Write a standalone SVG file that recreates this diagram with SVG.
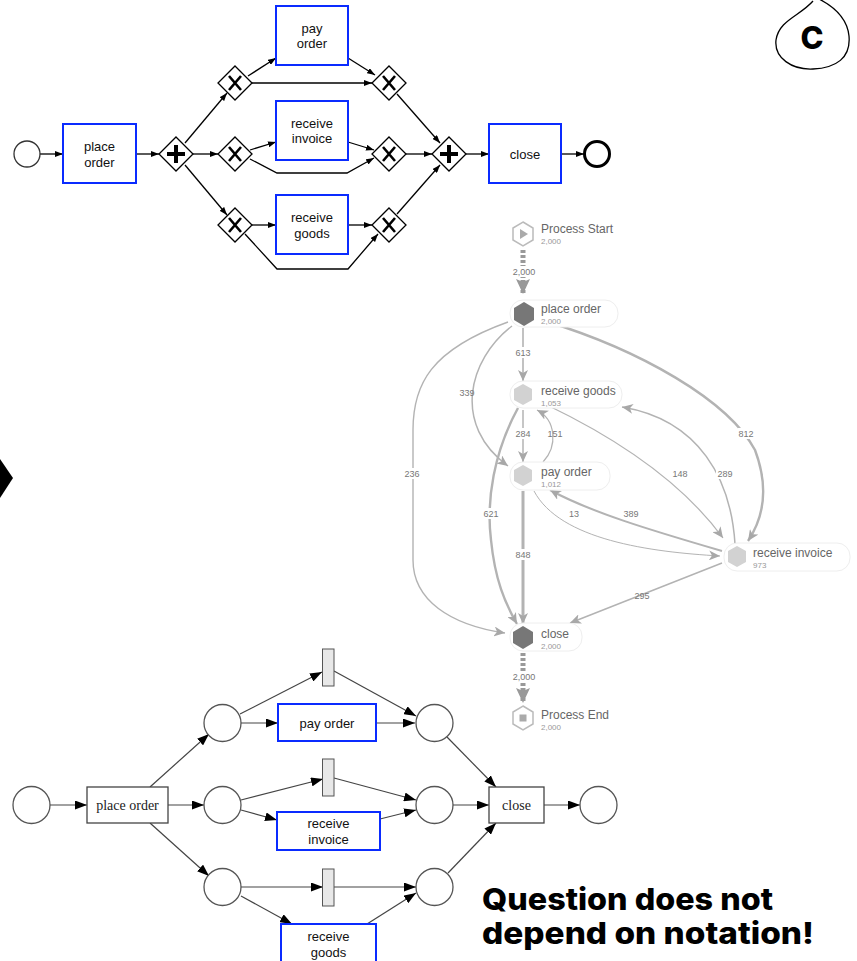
<svg xmlns="http://www.w3.org/2000/svg" width="857" height="961" viewBox="0 0 857 961">
<style>
.bl{fill:none;stroke:#000;stroke-width:1.3}
.task{fill:#fff;stroke:#0a2bff;stroke-width:2}
.gw{fill:#fff;stroke:#000;stroke-width:1.3}
.gm{stroke:#000;stroke-linecap:butt;fill:none}
.t{font-family:"Liberation Sans",Arial,sans-serif;font-size:13px;fill:#111;text-anchor:middle}
.ts{font-family:"Liberation Serif","Times New Roman",serif;font-size:14px;fill:#222;text-anchor:middle}
.pl{fill:#fff;stroke:#555;stroke-width:1.3}
.pe{fill:none;stroke:#444;stroke-width:1.2}
.de{fill:none;stroke:#b3b3b3}
.dl{font-family:"Liberation Sans",Arial,sans-serif;font-size:9px;fill:#777;text-anchor:middle}
.dn{font-family:"Liberation Sans",Arial,sans-serif;font-size:12px;fill:#666}
.dc{font-family:"Liberation Sans",Arial,sans-serif;font-size:8px;fill:#999}
.pill{fill:#fff;stroke:#eeeeee;stroke-width:1}
.big{font-family:Inter,"Open Sans",sans-serif;font-weight:800;font-size:30px;fill:#000}
</style>
<defs>
<marker id="ab" markerUnits="userSpaceOnUse" markerWidth="8" markerHeight="6" refX="8" refY="3" orient="auto"><path d="M0,0 L8,3 L0,6 z" fill="#000"/></marker>
<marker id="ap" markerUnits="userSpaceOnUse" markerWidth="12" markerHeight="9" refX="12" refY="4.5" orient="auto"><path d="M0,0 L12,4.5 L0,9 z" fill="#000"/></marker>
<marker id="ad" markerUnits="userSpaceOnUse" markerWidth="12" markerHeight="10" refX="11" refY="5" orient="auto"><path d="M0,0 L11,5 L0,10 L3,5 z" fill="#a8a8a8"/></marker>
<marker id="adb" markerUnits="userSpaceOnUse" markerWidth="16" markerHeight="14" refX="15" refY="7" orient="auto"><path d="M0,0 L15,7 L0,14 L3,7 z" fill="#999"/></marker>
</defs>

<!-- BPMN connectors -->
<g id="bpmn-edges">
<path class="bl" d="M40,154 L63,154" marker-end="url(#ab)"/>
<path class="bl" d="M136,154 L159,154" marker-end="url(#ab)"/>
<path class="bl" d="M185,143 L227,93" marker-end="url(#ab)"/>
<path class="bl" d="M193,154 L218,154" marker-end="url(#ab)"/>
<path class="bl" d="M185,165 L227,215" marker-end="url(#ab)"/>
<path class="bl" d="M248,76 L276,58" marker-end="url(#ab)"/>
<path class="bl" d="M252,83 L372,83" marker-end="url(#ab)"/>
<path class="bl" d="M250,150 L276,142" marker-end="url(#ab)"/>
<path class="bl" d="M250,159 L277,173 L347,173 L374,158" marker-end="url(#ab)"/>
<path class="bl" d="M252,225 L276,225" marker-end="url(#ab)"/>
<path class="bl" d="M245,234 L277,269 L348,269 L378,234" marker-end="url(#ab)"/>
<path class="bl" d="M348,58 L375,75" marker-end="url(#ab)"/>
<path class="bl" d="M348,142 L374,150" marker-end="url(#ab)"/>
<path class="bl" d="M348,225 L372,225" marker-end="url(#ab)"/>
<path class="bl" d="M397,94 L440,143" marker-end="url(#ab)"/>
<path class="bl" d="M406,154 L432,154" marker-end="url(#ab)"/>
<path class="bl" d="M397,214 L440,165" marker-end="url(#ab)"/>
<path class="bl" d="M466,154 L489,154" marker-end="url(#ab)"/>
<path class="bl" d="M561,154 L584,154" marker-end="url(#ab)"/>
</g>

<!-- BPMN nodes -->
<g id="b-start"><circle cx="27" cy="154" r="13" fill="#fff" stroke="#333" stroke-width="1.3"/></g>
<g id="b-place-order"><rect class="task" x="63" y="124" width="73" height="59"/><text class="t" x="99.5" y="151">place</text><text class="t" x="99.5" y="167">order</text></g>
<g id="b-and1"><polygon class="gw" points="176,137 193,154 176,171 159,154"/><path class="gm" stroke-width="4" d="M167,154 H185 M176,145 V163"/></g>
<g id="b-xor1"><polygon class="gw" points="235,66 252,83 235,100 218,83"/><path class="gm" stroke-width="2.6" d="M229,76 L241,90 M241,76 L229,90"/></g>
<g id="b-xor2"><polygon class="gw" points="235,137 252,154 235,171 218,154"/><path class="gm" stroke-width="2.6" d="M229,147 L241,161 M241,147 L229,161"/></g>
<g id="b-xor3"><polygon class="gw" points="235,208 252,225 235,242 218,225"/><path class="gm" stroke-width="2.6" d="M229,218 L241,232 M241,218 L229,232"/></g>
<g id="b-pay-order"><rect class="task" x="276" y="6" width="72" height="59"/><text class="t" x="312" y="33">pay</text><text class="t" x="312" y="48">order</text></g>
<g id="b-receive-invoice"><rect class="task" x="276" y="101" width="72" height="59"/><text class="t" x="312" y="128">receive</text><text class="t" x="312" y="143">invoice</text></g>
<g id="b-receive-goods"><rect class="task" x="276" y="195" width="72" height="59"/><text class="t" x="312" y="222">receive</text><text class="t" x="312" y="238">goods</text></g>
<g id="b-xor4"><polygon class="gw" points="389,66 406,83 389,100 372,83"/><path class="gm" stroke-width="2.6" d="M383,76 L395,90 M395,76 L383,90"/></g>
<g id="b-xor5"><polygon class="gw" points="389,137 406,154 389,171 372,154"/><path class="gm" stroke-width="2.6" d="M383,147 L395,161 M395,147 L383,161"/></g>
<g id="b-xor6"><polygon class="gw" points="389,208 406,225 389,242 372,225"/><path class="gm" stroke-width="2.6" d="M383,218 L395,232 M395,218 L383,232"/></g>
<g id="b-and2"><polygon class="gw" points="449,137 466,154 449,171 432,154"/><path class="gm" stroke-width="4" d="M440,154 H458 M449,145 V163"/></g>
<g id="b-close"><rect class="task" x="489" y="124" width="72" height="59"/><text class="t" x="525" y="159">close</text></g>
<g id="b-end"><circle cx="597" cy="154" r="12.5" fill="#fff" stroke="#000" stroke-width="3"/></g>

<!-- C badge -->
<g id="badge-c">
<path d="M813,1 C800,16 779,20 776,40 C774,58 792,70 813,69 C836,68 851,58 849,36 C847,16 830,4 815,-3" fill="#fff" stroke="#000" stroke-width="1.3"/>
<text x="812" y="49" font-family="Inter,'Open Sans',sans-serif" font-weight="800" font-size="31" text-anchor="middle">C</text>
</g>

<!-- left arrow fragment -->
<g id="left-arrow"><polygon points="0,459 13,478 0,498" fill="#000"/></g>

<!-- Disco process map connectors -->
<g id="disco-edges">
<path d="M523,250 L523,294" stroke="#999" stroke-width="5" stroke-dasharray="3,2" fill="none" marker-end="url(#adb)"/>
<path d="M523,653 L523,703" stroke="#999" stroke-width="5" stroke-dasharray="3,2" fill="none" marker-end="url(#adb)"/>
<path class="de" stroke-width="1.6" d="M523,328 L523,381" marker-end="url(#ad)"/>
<path class="de" stroke-width="1.5" d="M512,326 C468,360 452,425 508,466" marker-end="url(#ad)"/>
<path class="de" stroke-width="1.4" d="M508,322 C430,350 413,385 413,430 L413,560 C413,600 450,625 505,633" marker-end="url(#ad)"/>
<path class="de" stroke-width="2.4" d="M518,408 C494,452 486,500 491,540 C495,580 505,603 517,624" marker-end="url(#ad)"/>
<path class="de" stroke-width="1.5" d="M523,410 L523,462" marker-end="url(#ad)"/>
<path class="de" stroke-width="1.2" d="M543,462 C558,446 556,420 537,410" marker-end="url(#ad)"/>
<path class="de" stroke-width="3" d="M523,491 L523,624" marker-end="url(#ad)"/>
<path class="de" stroke-width="2.4" d="M545,321 C640,350 728,400 755,450 C770,490 762,520 748,541" marker-end="url(#ad)"/>
<path class="de" stroke-width="1.5" d="M735,544 C731,480 700,420 622,407" marker-end="url(#ad)"/>
<path class="de" stroke-width="1.2" d="M547,405 C620,440 682,482 723,538" marker-end="url(#ad)"/>
<path class="de" stroke-width="2" d="M722,551 C650,530 590,512 550,490" marker-end="url(#ad)"/>
<path class="de" stroke-width="1" d="M534,491 C560,540 650,552 720,556" marker-end="url(#ad)"/>
<path class="de" stroke-width="1.5" d="M722,563 L570,623" marker-end="url(#ad)"/>
<g>
<rect x="512" y="266" width="22" height="11" fill="#fff"/><text class="dl" x="524" y="275">2,000</text>
<rect x="512" y="671" width="22" height="11" fill="#fff"/><text class="dl" x="524" y="680">2,000</text>
<rect x="514" y="347" width="18" height="11" fill="#fff"/><text class="dl" x="523" y="356">613</text>
<text class="dl" x="467" y="396">339</text>
<rect x="402" y="468" width="20" height="11" fill="#fff"/><text class="dl" x="412" y="477">236</text>
<rect x="482" y="508" width="18" height="11" fill="#fff"/><text class="dl" x="491" y="517">621</text>
<rect x="514" y="428" width="18" height="11" fill="#fff"/><text class="dl" x="523" y="437">284</text>
<text class="dl" x="555" y="437">151</text>
<rect x="514" y="549" width="18" height="11" fill="#fff"/><text class="dl" x="523" y="558">848</text>
<rect x="738" y="428" width="18" height="11" fill="#fff"/><text class="dl" x="746" y="437">812</text>
<rect x="716" y="468" width="18" height="11" fill="#fff"/><text class="dl" x="725" y="477">289</text>
<text class="dl" x="680" y="477">148</text>
<text class="dl" x="631" y="517">389</text>
<text class="dl" x="574" y="517">13</text>
<text class="dl" x="642" y="599">295</text>
</g>
</g>

<!-- Disco nodes -->
<g id="d-start"><polygon points="523,222 533,228 533,240 523,246 513,240 513,228" fill="#fff" stroke="#bbb" stroke-width="1.5"/><polygon points="520,229 528,234 520,239" fill="#aaa"/><text class="dn" x="541" y="233">Process Start</text><text class="dc" x="541" y="244">2,000</text></g>
<g id="d-place-order"><rect class="pill" x="510" y="300" width="108" height="27" rx="13"/><polygon points="524,302 534,308 534,320 524,326 514,320 514,308" fill="#777"/><text class="dn" x="541" y="313">place order</text><text class="dc" x="541" y="324">2,000</text></g>
<g id="d-receive-goods"><rect class="pill" x="510" y="381" width="112" height="27" rx="13"/><polygon points="523,384 532,389 532,400 523,405 514,400 514,389" fill="#d2d2d2"/><text class="dn" x="541" y="395">receive goods</text><text class="dc" x="541" y="406">1,053</text></g>
<g id="d-pay-order"><rect class="pill" x="510" y="462" width="100" height="28" rx="13"/><polygon points="523,465 532,470 532,481 523,486 514,481 514,470" fill="#d2d2d2"/><text class="dn" x="541" y="476">pay order</text><text class="dc" x="541" y="487">1,012</text></g>
<g id="d-receive-invoice"><rect class="pill" x="724" y="543" width="126" height="28" rx="13"/><polygon points="737,546 746,551 746,562 737,567 728,562 728,551" fill="#d2d2d2"/><text class="dn" x="753" y="557">receive invoice</text><text class="dc" x="753" y="568">973</text></g>
<g id="d-close"><rect class="pill" x="510" y="623" width="72" height="28" rx="13"/><polygon points="523,626 533,632 533,643 523,649 513,643 513,632" fill="#777"/><text class="dn" x="541" y="638">close</text><text class="dc" x="541" y="649">2,000</text></g>
<g id="d-end"><polygon points="523,706 533,712 533,724 523,730 513,724 513,712" fill="#fff" stroke="#bbb" stroke-width="1.5"/><rect x="519.5" y="714.5" width="7" height="7" fill="#aaa"/><text class="dn" x="541" y="719">Process End</text><text class="dc" x="541" y="730">2,000</text></g>

<!-- Petri net connectors -->
<g id="petri-edges">
<path class="pe" d="M50,805 L87,805" marker-end="url(#ap)"/>
<path class="pe" d="M150,787 L209,734" marker-end="url(#ap)"/>
<path class="pe" d="M168,805 L204,805" marker-end="url(#ap)"/>
<path class="pe" d="M150,823 L209,876" marker-end="url(#ap)"/>
<path class="pe" d="M240,714 L322,672" marker-end="url(#ap)"/>
<path class="pe" d="M241,723 L278,723" marker-end="url(#ap)"/>
<path class="pe" d="M334,671 L416,716" marker-end="url(#ap)"/>
<path class="pe" d="M376,723 L415,723" marker-end="url(#ap)"/>
<path class="pe" d="M447,737 L496,787" marker-end="url(#ap)"/>
<path class="pe" d="M241,800 L323,779" marker-end="url(#ap)"/>
<path class="pe" d="M241,810 L277,820" marker-end="url(#ap)"/>
<path class="pe" d="M334,778 L416,800" marker-end="url(#ap)"/>
<path class="pe" d="M380,819 L416,810" marker-end="url(#ap)"/>
<path class="pe" d="M453,805 L489,805" marker-end="url(#ap)"/>
<path class="pe" d="M241,887 L323,887" marker-end="url(#ap)"/>
<path class="pe" d="M241,896 L292,924" marker-end="url(#ap)"/>
<path class="pe" d="M334,887 L416,887" marker-end="url(#ap)"/>
<path class="pe" d="M367,924 L416,893" marker-end="url(#ap)"/>
<path class="pe" d="M448,873 L496,823" marker-end="url(#ap)"/>
<path class="pe" d="M544,805 L580,805" marker-end="url(#ap)"/>
</g>

<!-- Petri net nodes -->
<g id="p-start"><circle class="pl" cx="31.5" cy="805" r="18.5"/></g>
<g id="p-place-order"><rect x="87" y="787" width="81" height="36" fill="#fff" stroke="#444" stroke-width="1.3"/><text class="ts" x="127.5" y="810">place order</text></g>
<g id="p-p1"><circle class="pl" cx="222.5" cy="723" r="18.5"/></g>
<g id="p-p2"><circle class="pl" cx="222.5" cy="805" r="18.5"/></g>
<g id="p-p3"><circle class="pl" cx="222.5" cy="887" r="18.5"/></g>
<g id="p-tau1"><rect x="322.5" y="649" width="11.5" height="37" fill="#e8e8e8" stroke="#555" stroke-width="1"/></g>
<g id="p-tau2"><rect x="322.5" y="759" width="11.5" height="37" fill="#e8e8e8" stroke="#555" stroke-width="1"/></g>
<g id="p-tau3"><rect x="322.5" y="869" width="11.5" height="37" fill="#e8e8e8" stroke="#555" stroke-width="1"/></g>
<g id="p-pay-order"><rect class="task" x="278" y="704" width="98" height="37"/><text class="t" x="327" y="728">pay order</text></g>
<g id="p-receive-invoice"><rect class="task" x="277" y="812" width="103" height="38"/><text class="t" x="328.5" y="828">receive</text><text class="t" x="328.5" y="844">invoice</text></g>
<g id="p-receive-goods"><rect class="task" x="281" y="924" width="95" height="40"/><text class="t" x="328.5" y="941">receive</text><text class="t" x="328.5" y="957">goods</text></g>
<g id="p-q1"><circle class="pl" cx="434.5" cy="723" r="18.5"/></g>
<g id="p-q2"><circle class="pl" cx="434.5" cy="805" r="18.5"/></g>
<g id="p-q3"><circle class="pl" cx="434.5" cy="887" r="18.5"/></g>
<g id="p-close"><rect x="489" y="787" width="55" height="36" fill="#fff" stroke="#444" stroke-width="1.3"/><text class="ts" x="516.5" y="810">close</text></g>
<g id="p-end"><circle class="pl" cx="598.5" cy="805" r="18.5"/></g>

<!-- caption -->
<g id="caption">
<text class="big" x="482" y="910" textLength="291" lengthAdjust="spacingAndGlyphs">Question does not</text>
<text class="big" x="482" y="944" textLength="332" lengthAdjust="spacingAndGlyphs">depend on notation!</text>
</g>
</svg>
